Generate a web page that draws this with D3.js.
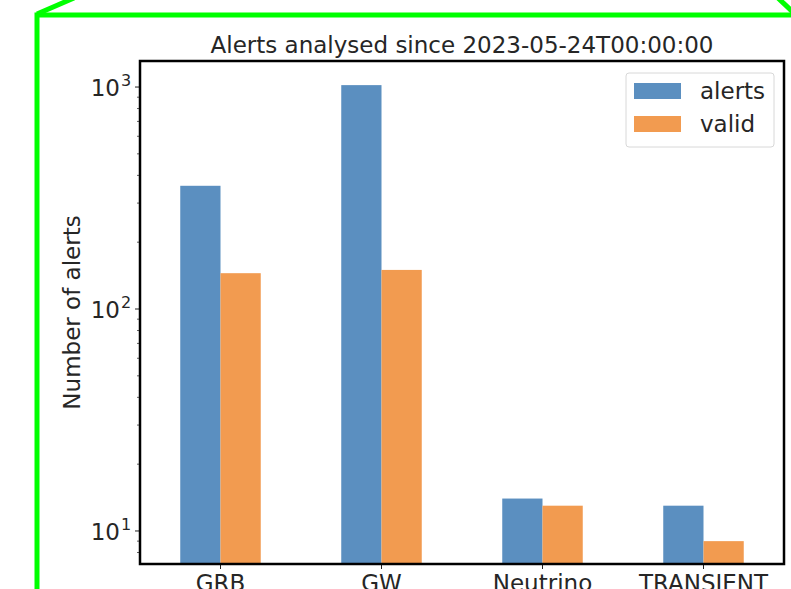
<!DOCTYPE html>
<html>
<head>
<meta charset="utf-8">
<script src="https://cdn.jsdelivr.net/npm/d3@7"></script>
<style>
  html, body { margin: 0; padding: 0; background: #fff; }
  svg { display: block; font-family: "DejaVu Sans", sans-serif; }
</style>
</head>
<body>
<svg id="chart" width="791" height="589"></svg>
<script>
// Alert counts per source category
const categories = ["GRB", "GW", "Neutrino", "TRANSIENT"];
const alerts = [359, 1020, 14, 13];
const valid = [145, 150, 13, 9];
const seriesNames = ["alerts", "valid"];
const seriesColors = ["#5b8fc0", "#f29b50"];
const yTickValues = [10, 100, 1000];
const yTickExponents = ["1", "2", "3"];
const titleText = "Alerts analysed since 2023-05-24T00:00:00";
const yLabelText = "Number of alerts";

const svg = d3.select("#chart");
const W = 791, H = 589;
const FS = 23;

// Outer frame
const frame = svg.append("g").attr("fill", "none").attr("stroke", "#00ff00").attr("stroke-width", 5);
frame.append("path").attr("d", `M37,${H + 5} L37,15 L795,15`);
frame.append("path").attr("d", "M37,14 L74,-2");
frame.append("path").attr("d", "M778,-2 L795,14");

const plot = { left: 140, right: 784, top: 61, bottom: 564 };

const x = d3.scaleLinear().domain([-0.5, categories.length - 0.5]).range([plot.left, plot.right]);
const y = d3.scaleLog().domain([7.1, 1310]).range([plot.bottom, plot.top]);
const barW = 0.25;

const series = [alerts, valid];
series.forEach((vals, si) => {
  svg.append("g").selectAll("rect").data(vals).join("rect")
    .attr("x", (d, i) => x(i - barW + si * barW))
    .attr("width", x(barW) - x(0))
    .attr("y", d => y(d))
    .attr("height", d => plot.bottom - y(d))
    .attr("fill", seriesColors[si]);
});

// Y axis ticks (major + minor)
const yAxisG = svg.append("g");
const minor = [];
for (let dec = 1; dec <= 1000; dec *= 10) {
  for (let m = 2; m <= 9; m++) {
    const v = dec * m;
    if (v >= 7.1 && v <= 1310) minor.push(v);
  }
}
yAxisG.selectAll("line.minor").data(minor).join("line")
  .attr("x1", plot.left - 3).attr("x2", plot.left)
  .attr("y1", d => y(d)).attr("y2", d => y(d))
  .attr("stroke", "#333").attr("stroke-width", 0.8);
yAxisG.selectAll("line.major").data(yTickValues).join("line")
  .attr("x1", plot.left - 5).attr("x2", plot.left)
  .attr("y1", d => y(d)).attr("y2", d => y(d))
  .attr("stroke", "#222").attr("stroke-width", 1);
yAxisG.selectAll("text.base").data(yTickValues).join("text")
  .attr("class", "base")
  .attr("x", plot.left - 20).attr("y", d => y(d) + 9)
  .attr("text-anchor", "end")
  .attr("font-size", FS).attr("fill", "#262626")
  .text("10");
yAxisG.selectAll("text.exp").data(yTickValues).join("text")
  .attr("class", "exp")
  .attr("x", plot.left - 19).attr("y", d => y(d) - 1)
  .attr("font-size", 16).attr("fill", "#262626")
  .text((d, i) => yTickExponents[i]);

// X axis ticks and labels
const xAxisG = svg.append("g");
xAxisG.selectAll("line").data(categories).join("line")
  .attr("x1", (d, i) => x(i)).attr("x2", (d, i) => x(i))
  .attr("y1", plot.bottom).attr("y2", plot.bottom + 5)
  .attr("stroke", "#222").attr("stroke-width", 1);
xAxisG.selectAll("text").data(categories).join("text")
  .attr("x", (d, i) => x(i)).attr("y", plot.bottom + 27)
  .attr("text-anchor", "middle")
  .attr("font-size", FS).attr("fill", "#262626")
  .text(d => d);

// Plot frame
svg.append("rect")
  .attr("x", plot.left).attr("y", plot.top)
  .attr("width", plot.right - plot.left).attr("height", plot.bottom - plot.top)
  .attr("fill", "none").attr("stroke", "#000").attr("stroke-width", 2.5);

// Title
svg.append("text")
  .attr("x", (plot.left + plot.right) / 2).attr("y", 53)
  .attr("text-anchor", "middle")
  .attr("font-size", FS).attr("fill", "#262626")
  .text(titleText);

// Y label
svg.append("text")
  .attr("transform", `translate(80,${(plot.top + plot.bottom) / 2}) rotate(-90)`)
  .attr("text-anchor", "middle")
  .attr("font-size", FS).attr("fill", "#262626")
  .text(yLabelText);

// Legend
const lg = svg.append("g").attr("transform", "translate(626,73)");
lg.append("rect").attr("width", 148).attr("height", 74).attr("rx", 3)
  .attr("fill", "#fff").attr("fill-opacity", 0.8)
  .attr("stroke", "#d8d8d8").attr("stroke-width", 1);
seriesNames.forEach((name, i) => {
  lg.append("rect").attr("x", 8).attr("y", 10 + i * 33).attr("width", 47).attr("height", 16)
    .attr("fill", seriesColors[i]);
  lg.append("text").attr("x", 74).attr("y", 26 + i * 33)
    .attr("font-size", FS).attr("fill", "#262626").text(name);
});
</script>
</body>
</html>
